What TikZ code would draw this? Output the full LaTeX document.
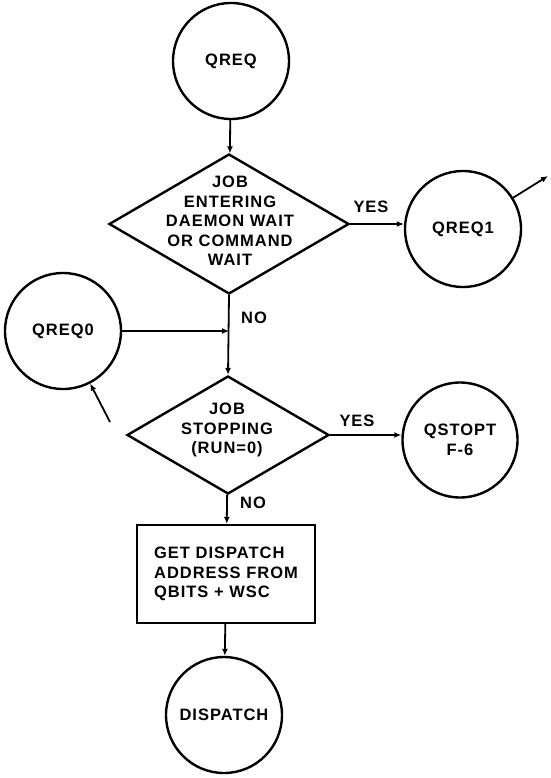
\documentclass[tikz,border=0pt]{standalone}
\usepackage{fontspec}
\setmainfont{Liberation Sans}[LetterSpace=6.0]
\usetikzlibrary{shapes.geometric,arrows.meta}
\tikzset{
  conn/.style={circle,draw,line width=2.4pt,minimum size=116pt,inner sep=0pt,align=center},
  decision/.style={diamond,draw,line width=2.4pt,inner sep=0pt},
  procbox/.style={rectangle,draw,line width=2.4pt,align=left,inner sep=0pt},
  lbl/.style={align=center},
  flow/.style={line width=1.8pt,-{Latex[length=7pt,width=6pt]}}
}
\begin{document}
\begin{tikzpicture}[x=1pt,y=-1pt,font=\bfseries\fontsize{16.5}{19.5}\selectfont]
        \useasboundingbox (0,0) rectangle (550,778);
        % entry point and first test
        \node[conn] (qreq) at (231,61) {QREQ};
        \node[decision,minimum width=240pt,minimum height=140pt] (enter) at (229,224) {};
        \node[lbl] (entertxt) at (230,221) {JOB\\ENTERING\\DAEMON WAIT\\OR COMMAND\\WAIT};
        \node[conn] (qreq1) at (463,229) {QREQ1};
        \coordinate (exit1) at (548,176);
        % second entry from the left
        \node[conn] (qreq0) at (63,331) {QREQ0};
        \coordinate (entry0) at (110,422);
        \coordinate (merge) at (229,331);
        % second test
        \node[decision,minimum width=202pt,minimum height=118pt] (stop) at (228,435) {};
        \node[lbl] (stoptxt) at (227,430) {JOB\\STOPPING\\(RUN=0)};
        \node[conn,minimum size=115pt] (qstopt) at (460,440) {QSTOPT\\F-6};
        % dispatch
        \node[procbox,minimum width=178pt,minimum height=98pt] (getaddr) at (226,574)
                {GET DISPATCH\\ADDRESS FROM\\QBITS + WSC};
        \node[conn] (dispatch) at (224,715) {DISPATCH};

        \node (yes1) at (371,207) {YES};
        \node (no1) at (254,318) {NO};
        \node (yes2) at (357,421) {YES};
        \node (no2) at (253,503) {NO};

        \draw[flow] (qreq) -- (enter);
        \draw[flow] (enter.east) -- (enter.east -| qreq1.west);
        \draw[flow] (qreq1) -- (exit1);
        \draw[flow] (entry0) -- (qreq0);
        \draw[flow] (enter.south) -- (stop.north);
        \draw[flow] (qreq0.east) -- (merge);
        \draw[flow] (stop.east) -- (stop.east -| qstopt.west);
        \draw[flow] (stop) -- (getaddr);
        \draw[flow] (getaddr) -- (dispatch);
\end{tikzpicture}
\end{document}
